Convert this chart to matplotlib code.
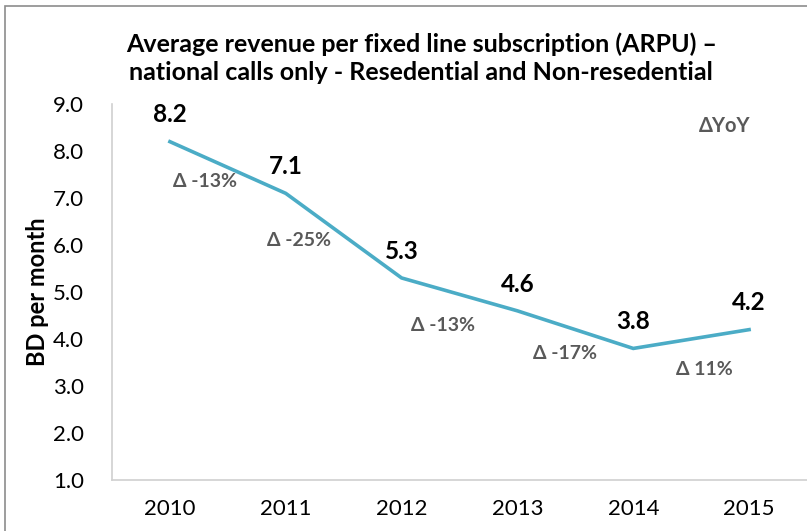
import matplotlib.pyplot as plt
from matplotlib.patches import Rectangle

years = ['2010', '2011', '2012', '2013', '2014', '2015']
arpu = [8.2, 7.1, 5.3, 4.6, 3.8, 4.2]
yoy_labels = ['\u0394 -13%', '\u0394 -25%', '\u0394 -13%', '\u0394 -17%', '\u0394 11%']
# where the YoY notes sit (data coords)
yoy_x = [0.30, 1.11, 2.36, 3.41, 4.61]
yoy_y = [7.36, 6.09, 4.28, 3.70, 3.36]

plt.rcParams['font.family'] = ['Lato', 'DejaVu Sans']

fig = plt.figure(figsize=(8.07, 5.31), dpi=100)
ax = fig.add_axes([0.1388, 0.096, 0.8612, 0.708])

x = list(range(len(years)))
ax.plot(x, arpu, color='#4BACC6', linewidth=2.6, solid_joinstyle='miter')

for xi, v in zip(x, arpu):
    ax.annotate('%.1f' % v, (xi, v), xytext=(0, 11), textcoords='offset points',
                ha='center', va='bottom', fontsize=17.5, fontweight='bold', color='black')

for lab, lx, ly in zip(yoy_labels, yoy_x, yoy_y):
    ax.text(lx, ly, lab, ha='center', va='center', fontsize=14,
            fontweight='bold', color='#595959')
ax.text(4.79, 8.53, '\u0394YoY', ha='center', va='center', fontsize=14.5,
        fontweight='bold', color='#595959')

ax.set_xlim(-0.5, 5.5)
ax.set_ylim(1, 9)
ax.set_xticks(x)
ax.set_xticklabels(years)
ax.set_yticks([1, 2, 3, 4, 5, 6, 7, 8, 9])
ax.set_yticklabels(['%.1f' % t for t in range(1, 10)])
ax.tick_params(length=0, labelsize=16, colors='black', pad=20)
ax.tick_params(axis='x', pad=14)
for s in ['top', 'right']:
    ax.spines[s].set_visible(False)
for s in ['left', 'bottom']:
    ax.spines[s].set_color('#d0d0d0')
    ax.spines[s].set_linewidth(1.2)

ax.set_ylabel('BD per month', fontsize=17, fontweight='bold')
ax.yaxis.set_label_coords(-0.09, 0.5)

fig.text(0.522, 0.917, 'Average revenue per fixed line subscription (ARPU) \u2013',
         ha='center', va='center', fontsize=18, fontweight='bold')
fig.text(0.522, 0.864, 'national calls only - Resedential and Non-resedential',
         ha='center', va='center', fontsize=18, fontweight='bold')

fig.patches.append(Rectangle((5 / 807, -0.1), 1.2, 1 - 6 / 531 + 0.1,
                             transform=fig.transFigure, fill=False,
                             edgecolor='#8c8c8c', linewidth=1.2))

fig.savefig('out.png', dpi=100)
